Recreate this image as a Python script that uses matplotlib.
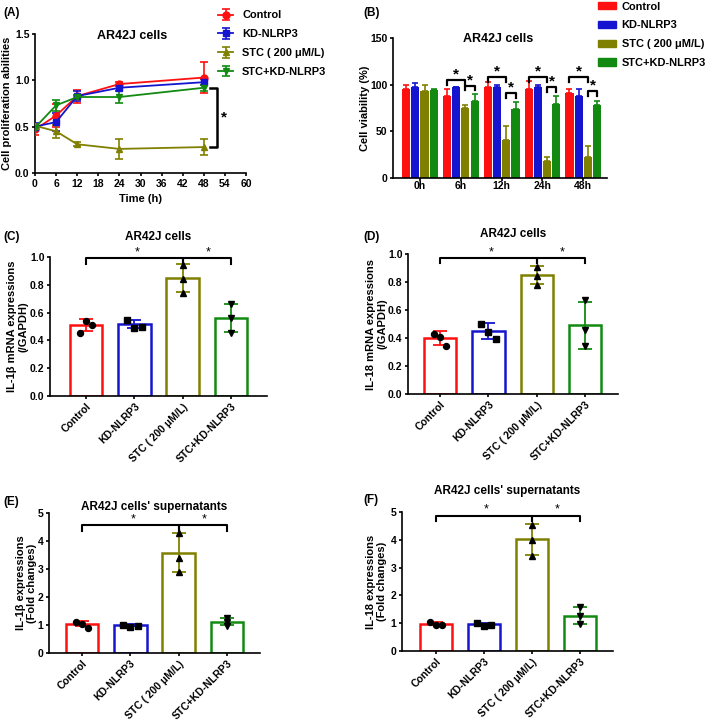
import matplotlib
matplotlib.use("Agg")
import matplotlib.pyplot as plt
import numpy as np
from matplotlib.patches import Patch

plt.rcParams['font.family'] = ['Liberation Sans', 'DejaVu Sans']
plt.rcParams['font.weight'] = 'bold'
plt.rcParams['axes.labelweight'] = 'bold'

groups = ["Control", "KD-NLRP3", "STC ( 200 μM/L)", "STC+KD-NLRP3"]
colors = ["#FF1010", "#1515D0", "#808000", "#128A12"]

# Panel A
times = [0, 6, 12, 24, 48]
a_mean = {
    "Control": [0.47, 0.62, 0.83, 0.96, 1.03],
    "KD-NLRP3": [0.50, 0.55, 0.83, 0.92, 0.98],
    "STC ( 200 μM/L)": [0.51, 0.45, 0.31, 0.26, 0.28],
    "STC+KD-NLRP3": [0.49, 0.73, 0.82, 0.82, 0.92],
}
a_err = {
    "Control": [0.06, 0.12, 0.07, 0.02, 0.17],
    "KD-NLRP3": [0.04, 0.10, 0.05, 0.03, 0.03],
    "STC ( 200 μM/L)": [0.02, 0.07, 0.02, 0.11, 0.09],
    "STC+KD-NLRP3": [0.02, 0.06, 0.02, 0.06, 0.03],
}
a_markers = ["o", "s", "^", "v"]

# Panel B
b_cats = ["0h", "6h", "12h", "24h", "48h"]
b_mean = {
    "Control": [95, 88, 97, 95, 91],
    "KD-NLRP3": [97, 97, 97, 97, 88],
    "STC ( 200 μM/L)": [93, 75, 41, 18, 23],
    "STC+KD-NLRP3": [94, 83, 74, 79, 78],
}
b_err = {
    "Control": [5, 7, 6, 9, 4],
    "KD-NLRP3": [5, 1, 3, 3, 7],
    "STC ( 200 μM/L)": [7, 3, 15, 4, 11],
    "STC+KD-NLRP3": [1, 7, 7, 9, 4],
}
b_br1 = [None, 105, 108, 108, 108]
b_br2 = [None, 99, 91, 97.5, 93]

# Panels C-F: means, sd, individual points
c_mean = [0.51, 0.52, 0.85, 0.56]
c_err = [0.045, 0.03, 0.10, 0.10]
c_pts = [[0.54, 0.51, 0.45], [0.55, 0.49, 0.50], [0.94, 0.84, 0.74], [0.66, 0.56, 0.45]]

d_mean = [0.40, 0.45, 0.85, 0.49]
d_err = [0.05, 0.055, 0.065, 0.165]
d_pts = [[0.43, 0.41, 0.34], [0.50, 0.44, 0.39], [0.91, 0.84, 0.78], [0.67, 0.46, 0.34]]

e_mean = [1.05, 1.00, 3.58, 1.12]
e_err = [0.10, 0.04, 0.70, 0.13]
e_pts = [[1.12, 1.05, 0.90], [1.00, 0.93, 0.98], [4.28, 3.40, 2.90], [1.25, 0.98, 1.12]]

f_mean = [0.98, 0.97, 4.02, 1.27]
f_err = [0.06, 0.05, 0.55, 0.30]
f_pts = [[1.03, 0.92, 0.95], [0.99, 0.90, 0.95], [4.55, 4.00, 3.42], [1.57, 0.98, 1.25]]

jit = [[-0.12, 0.0, 0.12], [-0.15, 0.0, 0.15], [0.0, 0.0, 0.0], [0.0, 0.0, 0.0]]
jit_c = [[0.0, 0.13, -0.13], [-0.15, 0.0, 0.15], [0.0, 0.0, 0.0], [0.0, 0.0, 0.0]]

W, H = 709, 724
fig = plt.figure(figsize=(W / 100, H / 100), dpi=100)
TICK_FS = 7.5
LAB_FS = 8


def ax_px(x0, x1, ytop, ybot):
    return fig.add_axes([x0 / W, 1 - ybot / H, (x1 - x0) / W, (ybot - ytop) / H])


def style(ax):
    for s in ["top", "right"]:
        ax.spines[s].set_visible(False)
    for s in ["left", "bottom"]:
        ax.spines[s].set_linewidth(1.2)
    ax.tick_params(width=1.2, length=2.5, labelsize=TICK_FS, pad=1.5)
    for lab in ax.get_yticklabels() + ax.get_xticklabels():
        lab.set_fontweight('bold')


# ---------- A ----------
axA = ax_px(35, 246, 34, 173)
for g, c, m in zip(groups, colors, a_markers):
    axA.errorbar(times, a_mean[g], yerr=a_err[g], color=c, marker=m, ms=5,
                 lw=1.3, capsize=3, elinewidth=1.2, capthick=1.2, label=g, zorder=3)
axA.set_xlim(0, 60)
axA.set_ylim(0, 1.5)
axA.set_xticks(range(0, 61, 6))
axA.set_yticks([0, 0.5, 1.0, 1.5])
axA.set_yticklabels(["0.0", "0.5", "1.0", "1.5"])
axA.set_xlabel("Time (h)", fontsize=LAB_FS, labelpad=4)
axA.set_ylabel("Cell proliferation abilities", fontsize=LAB_FS)
axA.yaxis.set_label_coords(-0.109, 0.5)
axA.text(0.46, 0.985, "AR42J cells", transform=axA.transAxes, ha='center', va='center',
         fontsize=9, fontweight='bold')
style(axA)
axA.plot([49.8, 51.8, 51.8, 49.8], [0.922, 0.922, 0.283, 0.283], color='black', lw=1.8,
         clip_on=False)
axA.text(53.6, 0.6, "*", ha='center', va='center', fontsize=11, fontweight='bold')

fig.legend(handles=axA.get_legend_handles_labels()[0], labels=groups,
           loc='upper left', bbox_to_anchor=(218 / W, 1 - 10.5 / H), frameon=False,
           fontsize=7.9, handlelength=1.4, labelspacing=0.8, borderaxespad=0,
           borderpad=0, handletextpad=0.8)

# ---------- B ----------
axB = ax_px(393, 607, 38, 178)
xb = np.arange(len(b_cats))
offs = [-0.34, -0.113, 0.113, 0.34]
bw = 0.2
for i, (g, c) in enumerate(zip(groups, colors)):
    axB.bar(xb + offs[i], b_mean[g], width=bw, color=c, zorder=2)
    axB.errorbar(xb + offs[i], b_mean[g], yerr=[np.zeros(5), b_err[g]], fmt='none',
                 ecolor=c, elinewidth=1.2, capsize=2.5, capthick=1.2, zorder=1)
axB.set_xlim(-0.66, 4.58)
axB.set_ylim(0, 150)
axB.set_yticks([0, 50, 100, 150])
axB.set_xticks(xb)
axB.set_xticklabels(b_cats)
axB.set_ylabel("Cell viability (%)", fontsize=LAB_FS)
axB.yaxis.set_label_coords(-0.107, 0.5)
axB.text(0.49, 0.99, "AR42J cells", transform=axB.transAxes, ha='center', va='center',
         fontsize=9, fontweight='bold')
style(axB)
axB.tick_params(axis='x', length=2, pad=0.5)
for i in range(1, 5):
    x0, x1, x2 = i + offs[0], i + offs[2], i + offs[3]
    y1, y2 = b_br1[i], b_br2[i]
    axB.plot([x0, x0, x1, x1], [y1 - 5, y1, y1, y1 - 5], color='black', lw=1.6)
    axB.text((x0 + x1) / 2, y1 + 6, "*", ha='center', va='center', fontsize=11,
             fontweight='bold')
    axB.plot([x1, x1, x2, x2], [y2 - 5, y2, y2, y2 - 5], color='black', lw=1.6)
    axB.text((x1 + x2) / 2, y2 + 6, "*", ha='center', va='center', fontsize=11,
             fontweight='bold')

handlesB = [Patch(facecolor=c, edgecolor=c) for c in colors]
fig.legend(handles=handlesB, labels=groups, loc='upper left',
           bbox_to_anchor=(598 / W, 1 - 1.5 / H), frameon=False, fontsize=7.9,
           handlelength=1.65, handleheight=0.65, labelspacing=0.8, borderaxespad=0,
           borderpad=0, handletextpad=0.5)


# ---------- C-F ----------
def dot_panel(box, xlim, mean, err, pts, jitter, ylim, yticks, yticklabels, ylabel,
              label_x, title, title_pad, br_y, br_drop, star_y):
    ax = ax_px(*box)
    x = np.arange(4)
    mk = ["o", "s", "^", "v"]
    for i in range(4):
        ax.bar(x[i], mean[i], width=0.67, facecolor='white', edgecolor=colors[i],
               linewidth=1.8, zorder=1)
        ax.errorbar(x[i], mean[i], yerr=err[i], fmt='none', ecolor=colors[i],
                    elinewidth=1.3, capsize=5, capthick=1.3, zorder=2)
        ax.plot(x[i] + np.array(jitter[i]), pts[i], linestyle='none', marker=mk[i],
                color='black', ms=4.3, zorder=3, clip_on=False)
    ax.set_xlim(*xlim)
    ax.set_ylim(*ylim)
    ax.set_yticks(yticks)
    ax.set_yticklabels(yticklabels)
    ax.set_xticks(x)
    ax.set_xticklabels(groups, rotation=45, ha='right', rotation_mode='anchor')
    ax.set_ylabel(ylabel, fontsize=LAB_FS, linespacing=1.1)
    ax.yaxis.set_label_coords(label_x, 0.5)
    ax.set_title(title, fontsize=8.5, fontweight='bold', pad=title_pad)
    style(ax)
    ax.plot([0, 0, 2, 2], [br_y - br_drop, br_y, br_y, br_y - br_drop], color='black',
            lw=1.5, clip_on=False)
    ax.plot([2, 2, 3, 3], [br_y - br_drop, br_y, br_y, br_y - br_drop], color='black',
            lw=1.5, clip_on=False)
    ax.text(1.05, star_y, "*", ha='center', va='center', fontsize=9, fontweight='normal')
    ax.text(2.52, star_y, "*", ha='center', va='center', fontsize=9, fontweight='normal')
    return ax


dot_panel((50, 267, 257, 396), (-0.745, 3.745), c_mean, c_err, c_pts, jit_c, (0, 1.0),
          [0, 0.2, 0.4, 0.6, 0.8, 1.0], ["0.0", "0.2", "0.4", "0.6", "0.8", "1.0"],
          "IL-1β mRNA expressions\n(/GAPDH)", -0.101, "AR42J cells", 12, 0.995, 0.045,
          1.035)
dot_panel((408, 618, 254, 394), (-0.66, 3.68), d_mean, d_err, d_pts, jit, (0, 1.0),
          [0, 0.2, 0.4, 0.6, 0.8, 1.0], ["0.0", "0.2", "0.4", "0.6", "0.8", "1.0"],
          "IL-18 mRNA expressions\n(/GAPDH)", -0.10, "AR42J cells", 12, 0.975, 0.04, 1.01)
dot_panel((49, 260, 513, 653), (-0.68, 3.68), e_mean, e_err, e_pts, jit, (0, 5),
          [0, 1, 2, 3, 4, 5], ["0", "1", "2", "3", "4", "5"],
          "IL-1β expressions\n(Fold changes)", -0.057, "AR42J cells' supernatants", 2,
          4.56, 0.22, 4.78)
dot_panel((402, 613, 512, 651), (-0.70, 3.68), f_mean, f_err, f_pts, jit, (0, 5),
          [0, 1, 2, 3, 4, 5], ["0", "1", "2", "3", "4", "5"],
          "IL-18 expressions\n(Fold changes)", -0.071, "AR42J cells' supernatants", 13,
          4.86, 0.2, 5.08)

# panel labels
for lab, x, y in [("(A)", 3, 13), ("(B)", 363, 13), ("(C)", 3, 237), ("(D)", 363, 237),
                  ("(E)", 3, 502), ("(F)", 363, 500)]:
    fig.text(x / W, 1 - y / H, lab, fontsize=8.5, fontweight='bold', va='center', ha='left')

fig.savefig("out.png", dpi=100)
